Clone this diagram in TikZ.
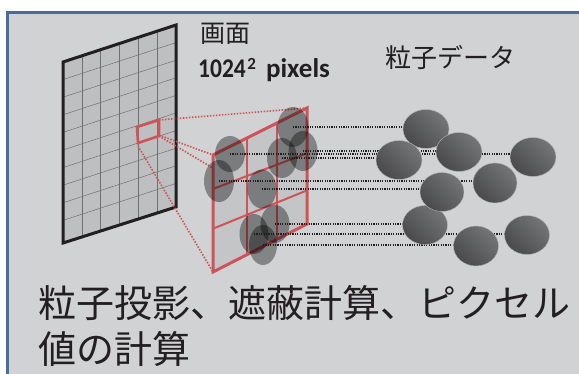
\documentclass[tikz,border=0pt]{standalone}
\usepackage{fontspec}
\setmainfont{Carlito}
\newfontfamily\jpfont{Noto Sans CJK JP}
\usetikzlibrary{calc,shapes.geometric}

\definecolor{panel}{HTML}{D1D2D4}
\definecolor{panelrule}{HTML}{4A6C9B}
\definecolor{ink}{HTML}{231F20}
\definecolor{screenfill}{HTML}{BEBFC1}
\definecolor{gridgray}{HTML}{707072}
\definecolor{pixred}{HTML}{CD5559}
\definecolor{pixfill}{HTML}{C4C5C7}
\definecolor{balllight}{HTML}{747577}
\definecolor{balldark}{HTML}{4A4A4C}

\tikzset{
  screenedge/.style={draw=ink, line width=3pt, line join=miter},
  gridline/.style={draw=gridgray, line width=0.5pt},
  redframe/.style={draw=pixred, line width=3pt, line join=miter},
  redgrid/.style={draw=pixred, line width=2pt},
  redsquare/.style={draw=pixred, line width=2.6pt, line join=miter},
  reddots/.style={draw=pixred, line width=1.6pt, dash pattern=on 1.5pt off 1.5pt},
  raydots/.style={draw=ink, line width=1.4pt, dash pattern=on 1.2pt off 1.2pt},
  footprint/.style={ellipse, inner sep=0pt, fill=black, fill opacity=0.37, draw=none},
  particle/.style={ellipse, inner sep=0pt, minimum width=46pt, minimum height=39pt,
    top color=balllight, bottom color=balldark, shading angle=-45,
    draw=panel!70!balllight, line width=0.4pt},
  label/.style={inner sep=0pt, text=ink}
}

\begin{document}
\begin{tikzpicture}[x=1pt, y=-1pt]
\useasboundingbox (0,0) rectangle (579,374);
\clip (0,0) rectangle (579,374);
\fill[white] (0,0) rectangle (579,374);

% panel with its blue rule
\draw[draw=panelrule, line width=3pt, fill=panel] (7.5,12.5) rectangle (620,420);

% the screen
\coordinate (scTL) at (63,62);
\coordinate (scTR) at (176,25);
\coordinate (scBR) at (176,207);
\coordinate (scBL) at (63,243);
\fill[screenfill] (scTL) -- (scTR) -- (scBR) -- (scBL) -- cycle;
\foreach \i in {1,...,5}
  \draw[gridline] ($(scTL)!\i/6!(scTR)$) -- ($(scBL)!\i/6!(scBR)$);
\foreach \k in {1,...,9}
  \draw[gridline] ($(scTL)+(0,17.6*\k)$) -- ($(scTR)+(0,17.6*\k)$);
\draw[screenedge] (scTL) -- (scTR) -- (scBR) -- (scBL) -- cycle;

% one pixel on the screen
\coordinate (sTL) at (137,127);
\coordinate (sTR) at (159,120);
\coordinate (sBR) at (159,136);
\coordinate (sBL) at (138,143);

% the enlarged pixel
\coordinate (bTL) at (213,155);
\coordinate (bTR) at (307,108);
\coordinate (bBR) at (307,224);
\coordinate (bBL) at (213,272);

% projection rays from the pixel
\draw[reddots] (sTR) -- (bTR);
\draw[reddots] ($(sTL)!0.29!(bTL)$) -- (bTL);
\draw[reddots] (sBR) -- (bBR);
\draw[reddots] ($(sBL)+(0,3)$) -- (bBL);
\draw[redsquare] (sTL) -- (sTR) -- (sBR) -- (sBL) -- cycle;

% enlarged pixel split into sub-pixels
\fill[pixfill] (bTL) -- (bTR) -- (bBR) -- (bBL) -- cycle;
\draw[redgrid] ($(bTL)!0.36!(bTR)$) -- ($(bBL)!0.36!(bBR)$);
\draw[redgrid] ($(bTL)!0.68!(bTR)$) -- ($(bBL)!0.68!(bBR)$);
\draw[redgrid] ($(bTL)!0.29!(bBL)$) -- ($(bTR)!0.39!(bBR)$);
\draw[redgrid] ($(bTL)!0.63!(bBL)$) -- ($(bTR)!0.71!(bBR)$);
\draw[redframe] (bTL) -- (bTR) -- (bBR) -- (bBL) -- cycle;

% projected particle footprints
\node[footprint, minimum width=30pt, minimum height=36pt] (e1) at (230,154) {};
\node[footprint, minimum width=30pt, minimum height=42pt] (e2) at (219,181) {};
\node[footprint, minimum width=31pt, minimum height=40pt] (e3) at (293,127) {};
\node[footprint, minimum width=30pt, minimum height=40pt] (e4) at (282,158) {};
\node[footprint, minimum width=29pt, minimum height=40pt] (e5) at (303,151) {};
\node[footprint, minimum width=29pt, minimum height=39pt] (e6) at (262,189) {};
\node[footprint, minimum width=29pt, minimum height=40pt] (e7) at (254,234) {};
\node[footprint, minimum width=29pt, minimum height=38pt] (e8) at (275,224) {};
\node[footprint, minimum width=28pt, minimum height=40pt] (e9) at (263,245) {};

% particle positions
\coordinate (cA) at (426,129);
\coordinate (cB) at (399,160);
\coordinate (cC) at (459,152);
\coordinate (cD) at (533,157);
\coordinate (cE) at (495,183);
\coordinate (cF) at (442,192);
\coordinate (cG) at (425,225);
\coordinate (cH) at (476,246);
\coordinate (cI) at (527,235);

% rays from footprints to particles
\draw[raydots] (e3.center) -- (e3.center -| cA);
\draw[raydots] (e5.center) -- (e5.center -| cC);
\draw[raydots] (e1.center) -- (e1.center -| cD);
\draw[raydots] (e4.center) -- (e4.center -| cB);
\draw[raydots] (e2.center) -- (e2.center -| cE);
\draw[raydots] (e6.center) -- (e6.center -| cF);
\draw[raydots] (e8.center) -- (e8.center -| cG);
\draw[raydots] (e7.center) -- (e7.center -| cI);
\draw[raydots] (e9.center) -- (e9.center -| cH);

% particles
\node[particle] (pA) at (cA) {};
\node[particle] (pB) at (cB) {};
\node[particle] (pC) at (cC) {};
\node[particle] (pD) at (cD) {};
\node[particle, minimum width=45pt] (pG) at (cG) {};
\node[particle, minimum width=44pt] (pF) at (cF) {};
\node[particle, minimum width=44pt, minimum height=40pt] (pE) at (cE) {};
\node[particle, minimum width=45pt, minimum height=40pt] (pH) at (cH) {};
\node[particle, minimum width=45pt] (pI) at (cI) {};

% labels
\node[label, font=\jpfont\fontsize{25}{30}\selectfont] (screenlbl) at (225.5,34) {画面};
\node[label, anchor=base west, font=\bfseries\fontsize{27}{32}\selectfont] (reslbl) at (198,78)
  {\scalebox{0.87}[1]{1024}\hspace{1.5pt}\raisebox{8.5pt}{\fontsize{17}{20}\selectfont 2}\hspace{4pt} pixels};
\node[label, font=\jpfont\fontsize{26}{30}\selectfont] (datalbl) at (450.5,57.5) {粒子データ};
\node[label, anchor=north west, align=left, font=\jpfont\fontsize{38}{46}\selectfont] (steps) at (38,285.5)
  {粒子投影、遮蔽計算、ピクセル\\値の計算};
\end{tikzpicture}
\end{document}
